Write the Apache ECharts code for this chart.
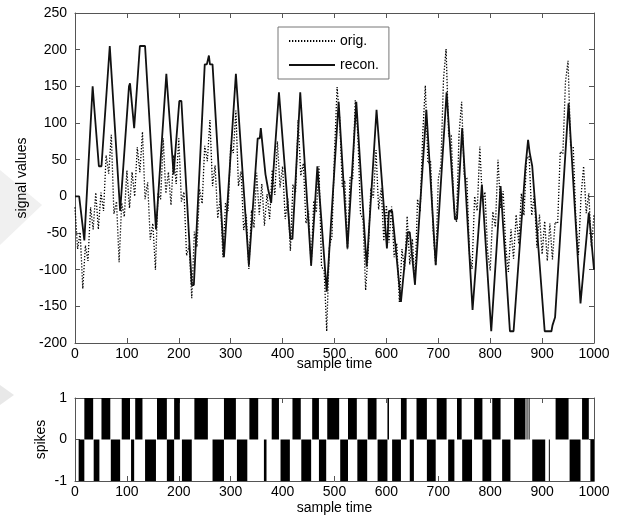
<!DOCTYPE html>
<html>
<head>
<meta charset="utf-8">
<script src="https://cdn.jsdelivr.net/npm/echarts@6/dist/echarts.min.js"></script>
<style>
html,body{margin:0;padding:0;background:#fff;}
#chart{width:634px;height:520px;}
</style>
</head>
<body>
<div id="chart"></div>
<script>
// ---- data ----
const xTicks = [0, 100, 200, 300, 400, 500, 600, 700, 800, 900, 1000];
const signalTicks = [-200, -150, -100, -50, 0, 50, 100, 150, 200, 250];
const spikeTicks = [-1, 0, 1];

// original signal, sampled every 5 samples (sample time 0..1000)
const origTime = [];
for (let t = 0; t <= 1000; t += 5) origTime.push(t);
const origValues = [
  -15, -72, -49, -126, -67, -88, -15, -45, 5, -45,
  5, -20, 56, 31, 84, -24, -7, -90, -9, -28,
  35, -16, 33, 0, 67, 33, 88, -4, 19, -59,
  -37, -100, 5, -4, 79, 4, 33, -12, 56, 17,
  79, -7, 6, -81, -67, -139, -48, -69, 10, -10,
  69, 48, 104, 14, 42, -30, -2, -83, -9, -20,
  70, 59, 117, 14, 34, -46, -25, -99, -19, -43,
  32, -25, 17, -40, 3, -31, 36, 2, 75, 12,
  41, -31, -3, -74, 16, 6, 104, 28, 45, -37,
  -20, -96, -6, -22, 41, -96, -101, -184, -69, -55,
  59, 149, 106, 13, 21, -72, 26, 24, 131, 85,
  -23, -32, -128, -76, 11, -2, 63, -18, 11, -61,
  -12, -63, -14, -83, -64, -144, -72, -100, -27, -93,
  -58, -121, -4, -21, 85, 151, 45, 48, -47, -94,
  24, 42, 160, 201, 82, 83, -16, -35, 85, 129,
  27, 25, -78, -99, 0, -20, 68, -7, 6, -75,
  -101, -21, -42, 50, -16, 7, -70, -103, -45, -85,
  -25, -65, 4, -26, 50, 55, -26, 2, -70, -25,
  -79, -34, -88, -37, -86, -35, -37, 61, 58, 156,
  185, 67, 68, -31, -80, 0, 41, -23, 4, -69,
  -25
];

// reconstruction: vertices of the piecewise-linear curve
const reconTime = [0, 8, 18, 34, 38, 46, 51, 67, 70, 87, 90, 104, 106, 108, 114, 116, 125, 135, 156, 158,
  176, 190, 201, 205, 225, 229, 250, 254, 258, 260, 265, 287, 310, 312, 335, 337, 352, 356, 358, 367,
  372, 378, 393, 396, 415, 419, 434, 436, 455, 457, 467, 470, 485, 486, 508, 511, 525, 527, 542, 544,
  562, 564, 581, 583, 601, 605, 611, 628, 641, 645, 655, 658, 677, 678, 695, 697, 716, 719, 732, 736,
  746, 766, 768, 784, 802, 804, 820, 823, 838, 845, 868, 870, 873, 876, 881, 905, 918, 920, 922, 925,
  951, 953, 974, 977, 990, 993, 1000];
const reconValues = [0, 0, -60, 150, 113, 41, 41, 205, 205, -20, -20, 150, 154, 154, 93, 93, 205, 205, -45, -45,
  167, 30, 130, 130, -121, -121, 180, 180, 192, 180, 180, -83, 167, 167, -94, -94, 79, 79, 93, 30,
  10, -9, 142, 142, -58, -58, 142, 142, -94, -94, 41, 41, -130, -130, 129, 129, -71, -71, 129, 129,
  -96, -96, 118, 118, -71, -20, -20, -144, -49, -49, -120, -120, 118, 118, -94, -94, 142, 142, -31, -31,
  93, -155, -155, 16, -184, -184, 14, 14, -184, -184, 41, 55, 77, 60, 41, -184, -184, -176, -176, -165,
  127, 127, -146, -146, -22, -22, -100];

// spike trains: start, end, sign (+1 / -1)
const spikeStart = [7, 18, 36, 51, 69, 90, 108, 116, 135, 158, 177, 191, 206, 230, 265, 287, 312, 336, 364, 379,
  396, 419, 436, 457, 470, 486, 511, 526, 544, 564, 583, 602, 611, 628, 645, 658, 678, 697, 719, 736,
  746, 769, 785, 804, 823, 846, 870, 874, 881, 913, 926, 953, 977, 993];
const spikeEnd = [18, 35, 47, 68, 87, 106, 114, 130, 156, 177, 191, 202, 225, 256, 287, 310, 332, 353, 369, 393,
  414, 435, 455, 470, 484, 509, 526, 543, 563, 581, 602, 605, 628, 639, 653, 678, 695, 716, 731, 745,
  765, 785, 802, 820, 839, 868, 871, 875, 906, 914, 951, 974, 990, 1000];
const spikeSign = [-1, 1, -1, 1, -1, 1, -1, 1, -1, 1, -1, 1, -1, 1, -1, 1, -1, 1, -1, 1,
  -1, 1, -1, 1, -1, 1, -1, 1, -1, 1, -1, 1, -1, 1, -1, 1, -1, 1, -1, 1,
  -1, 1, -1, 1, -1, 1, 1, 1, -1, -1, 1, -1, 1, -1];

// ---- build chart ----
const origData = origTime.map((t, i) => [t, origValues[i]]);
const reconData = reconTime.map((t, i) => [t, reconValues[i]]);
const spikeData = spikeStart.map((s, i) => [s, spikeEnd[i], spikeSign[i]]);

const FONT = 'Liberation Sans, Arial, sans-serif';
const AX = '#555';
const labelStyle = {color: '#000', fontSize: 14, fontFamily: FONT};

function xAx(grid, pos, labels, name, gap) {
  return {
    type: 'value', gridIndex: grid, position: pos, min: 0, max: 1000, interval: 100,
    axisLine: {show: true, onZero: false, lineStyle: {color: AX, width: 1}},
    axisTick: {show: true, inside: true, length: 5, lineStyle: {color: AX}},
    axisLabel: labels ? Object.assign({margin: 4, formatter: v => xTicks.includes(v) ? String(v) : ''}, labelStyle) : {show: false},
    splitLine: {show: false},
    name: name || '', nameLocation: 'middle', nameGap: gap || 0, nameMoveOverlap: false,
    nameTextStyle: labelStyle
  };
}
function yAx(grid, pos, labels, min, max, interval, ticks, name, gap) {
  return {
    type: 'value', gridIndex: grid, position: pos, min: min, max: max, interval: interval,
    axisLine: {show: true, onZero: false, lineStyle: {color: AX, width: 1}},
    axisTick: {show: true, inside: true, length: 5, lineStyle: {color: AX}},
    axisLabel: labels ? Object.assign({margin: 8, formatter: v => ticks.includes(v) ? String(v) : ''}, labelStyle) : {show: false},
    splitLine: {show: false},
    name: name || '', nameLocation: 'middle', nameGap: gap || 0, nameMoveOverlap: false,
    nameTextStyle: labelStyle
  };
}

const chart = echarts.init(document.getElementById('chart'), null, {renderer: 'canvas'});
chart.setOption({
  animation: false,
  backgroundColor: '#fff',
  textStyle: {fontFamily: FONT},
  grid: [
    {left: 75, right: 40, top: 13, height: 330},
    {left: 75, right: 40, top: 398, height: 83}
  ],
  graphic: [
    {
      type: 'polygon', z: -10, silent: true,
      shape: {points: [[0, 170], [42, 205], [0, 245]]},
      style: {fill: '#f0f0f0'}
    },
    {
      type: 'polygon', z: -10, silent: true,
      shape: {points: [[0, 385], [14, 395], [0, 405]]},
      style: {fill: '#e8e8e8'}
    }
  ],
  xAxis: [
    xAx(0, 'bottom', true, 'sample time', 14),
    xAx(0, 'top', false),
    xAx(1, 'bottom', true, 'sample time', 20),
    xAx(1, 'top', false)
  ],
  yAxis: [
    yAx(0, 'left', true, -200, 250, 50, signalTicks, 'signal values', 46),
    yAx(0, 'right', false, -200, 250, 50, signalTicks),
    yAx(1, 'left', true, -1, 1, 1, spikeTicks, 'spikes', 27),
    yAx(1, 'right', false, -1, 1, 1, spikeTicks)
  ],
  legend: {
    orient: 'vertical', left: 278, top: 27,
    padding: [7, 10], itemGap: 10, itemWidth: 46, itemHeight: 14,
    backgroundColor: '#fff', borderColor: '#777', borderWidth: 1,
    itemStyle: {opacity: 0},
    textStyle: {color: '#000', fontSize: 14, fontFamily: FONT},
    data: ['orig.', 'recon.']
  },
  series: [
    {
      name: 'orig.', type: 'line', xAxisIndex: 0, yAxisIndex: 0,
      data: origData, symbol: 'none', showSymbol: false,
      lineStyle: {color: '#000', width: 1.3, type: [1.3, 1.7]},
      itemStyle: {color: '#000'}
    },
    {
      name: 'recon.', type: 'line', xAxisIndex: 0, yAxisIndex: 0,
      data: reconData, symbol: 'none', showSymbol: false,
      lineStyle: {color: '#111', width: 1.8},
      itemStyle: {color: '#111'}
    },
    {
      name: 'spikes', type: 'custom', xAxisIndex: 2, yAxisIndex: 2,
      data: spikeData, encode: {x: [0, 1], y: 2},
      renderItem: function (params, api) {
        const p0 = api.coord([api.value(0), 0]);
        const p1 = api.coord([api.value(1), api.value(2)]);
        return {
          type: 'rect',
          shape: {x: p0[0], y: Math.min(p0[1], p1[1]), width: Math.max(p1[0] - p0[0], 1), height: Math.abs(p1[1] - p0[1])},
          style: {fill: '#000'}
        };
      }
    }
  ]
});
</script>
</body>
</html>
